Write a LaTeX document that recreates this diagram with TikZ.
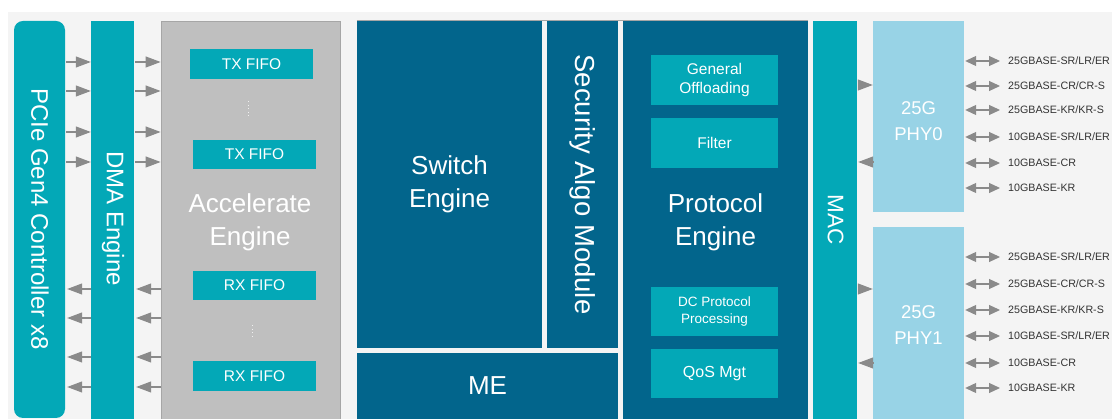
\documentclass[tikz,border=0pt]{standalone}
\usepackage{fontspec}
\setmainfont{Liberation Sans}
\usetikzlibrary{arrows.meta}
\definecolor{teal}{HTML}{03A8B7}
\definecolor{navy}{HTML}{02658C}
\definecolor{sky}{HTML}{98D3E6}
\definecolor{grayblk}{HTML}{BFBFBF}
\definecolor{graybd}{HTML}{A6A6A6}
\definecolor{pagebg}{HTML}{F4F4F4}
\definecolor{arrgray}{HTML}{8A8A8A}
\definecolor{lbl}{HTML}{333333}
\tikzset{
  blk/.style={draw=none, inner sep=0pt, text=white, align=center},
  tealblk/.style={blk, fill=teal},
  navyblk/.style={blk, fill=navy},
  skyblk/.style={blk, fill=sky, text=white},
  vtext/.style={blk, rotate=-90},
  fifo/.style={blk, fill=teal, minimum width=123pt, font=\fontsize{15.5}{18}\selectfont},
  inner/.style={blk, fill=teal, minimum width=127pt, minimum height=50pt},
  arr/.style={draw=arrgray, line width=1.1pt, -{Triangle[length=15pt,width=11pt]}},
  darr/.style={draw=arrgray, line width=1.1pt, {Triangle[length=11pt,width=10pt]}-{Triangle[length=11pt,width=10pt]}},
  std/.style={anchor=west, inner sep=0pt, text=lbl, font=\fontsize{10.7}{12}\selectfont},
  big/.style={font=\fontsize{26}{33}\selectfont},
}
\begin{document}
\begin{tikzpicture}[x=1pt, y=-1pt]
% page and backdrop
\useasboundingbox (0,0) rectangle (1112,419);
\fill[white] (0,0) rectangle (1112,419);
\fill[pagebg] (8,12) rectangle (1112,419);

% host side
\node[tealblk, rounded corners=9pt, minimum width=51pt, minimum height=397pt] (pcie) at (39.5,219.5) {};
\node[vtext, font=\fontsize{24}{28}\selectfont] (pcietxt) at (40,219) {PCIe Gen4 Controller x8};
\node[tealblk, minimum width=43pt, minimum height=398pt] (dma) at (112.5,220) {};
\node[vtext, font=\fontsize{24}{28}\selectfont] (dmatxt) at (113,218.5) {DMA Engine};
\node[blk, fill=grayblk, draw=graybd, line width=0.8pt, minimum width=179pt, minimum height=399pt] (acc) at (250.5,220.5) {};
\node[blk, big] (acctxt) at (250,222) {Accelerate\\Engine};
\node[fifo, minimum height=30pt] (tx1) at (251.5,64) {TX FIFO};
\node[fifo, minimum height=29pt] (tx2) at (254.5,154.5) {TX FIFO};
\node[fifo, minimum height=29pt] (rx1) at (254.5,285.5) {RX FIFO};
\node[fifo, minimum height=30pt] (rx2) at (254.5,376) {RX FIFO};
\draw[white!88!gray, line width=1pt, dash pattern=on 1pt off 2.5pt] (tx1.south -| 248,0) ++(0,22) -- ++(0,16);
\draw[white!88!gray, line width=1pt, dash pattern=on 1pt off 2.5pt] (rx1.south -| 252,0) ++(0,25) -- ++(0,14);

% host side transfers
\foreach \y in {62,91,132,162}{
  \draw[arr] (pcie.east |- 0,\y) ++(1,0) -- (dma.west |- 0,\y);
  \draw[arr] (dma.east |- 0,\y) ++(1,0) -- (acc.west |- 0,\y);
}
\foreach \y in {289,318,357,387}{
  \draw[arr] (dma.west |- 0,\y) -- ([xshift=2pt]pcie.east |- 0,\y);
  \draw[arr] (acc.west |- 0,\y) -- ([xshift=2pt]dma.east |- 0,\y);
}

% packet processing core
\node[navyblk, minimum width=185pt, minimum height=327pt, big] (sw) at (449.5,184.5) {Switch\\Engine};
\node[navyblk, minimum width=71pt, minimum height=327pt] (sec) at (582.5,184.5) {};
\node[vtext, font=\fontsize{27.5}{32}\selectfont] (sectxt) at (583,184.5) {Security Algo Module};
\node[navyblk, minimum width=261pt, minimum height=66pt, big] (me) at (487.5,386) {ME};
\node[navyblk, minimum width=185pt, minimum height=398pt] (prot) at (715.5,220) {};
\node[blk, big] (prottxt) at (715.5,222) {Protocol\\Engine};
\draw[graybd, line width=0.8pt] (sw.north west) -- (prot.north east);
\node[inner, font=\fontsize{15.5}{19}\selectfont] (gen) at (714.5,80) {General\\Offloading};
\node[inner, font=\fontsize{15.5}{19}\selectfont] (flt) at (714.5,143) {Filter};
\node[inner, minimum height=49pt, font=\fontsize{13.5}{17}\selectfont] (dcp) at (714.5,311.5) {DC Protocol\\Processing};
\node[inner, minimum height=49pt, font=\fontsize{16}{19}\selectfont] (qos) at (714.5,373.5) {QoS Mgt};

% line side
\node[tealblk, minimum width=44pt, minimum height=398pt] (mac) at (835,220) {};
\node[vtext, font=\fontsize{22.5}{26}\selectfont] (mactxt) at (835.5,220) {MAC};
\node[skyblk, minimum width=91pt, minimum height=191pt] (phy0) at (918.5,116.5) {};
\node[blk, font=\fontsize{18.5}{26}\selectfont] (phy0txt) at (918.5,121.5) {25G\\PHY0};
\node[skyblk, minimum width=91pt, minimum height=192pt] (phy1) at (918.5,323) {};
\node[blk, font=\fontsize{18.5}{26}\selectfont] (phy1txt) at (918.5,325.5) {25G\\PHY1};

\draw[arr] (mac.east |- 0,85) ++(1,0) -- (phy0.west |- 0,85);
\draw[arr] (phy0.west |- 0,162) -- ([xshift=1pt]mac.east |- 0,162);
\draw[arr] (mac.east |- 0,289) ++(1,0) -- (phy1.west |- 0,289);
\draw[arr] (phy1.west |- 0,363) -- ([xshift=1pt]mac.east |- 0,363);

% media standards
\foreach \i/\y/\t in {a/61/{25GBASE-SR/LR/ER}, b/86/{25GBASE-CR/CR-S}, c/110/{25GBASE-KR/KR-S},
                      d/137/{10GBASE-SR/LR/ER}, e/163/{10GBASE-CR}, f/188/{10GBASE-KR}}{
  \node[std] (p0\i) at (1008,\y) {\t};
  \draw[darr] (phy0.east |- p0\i.west) ++(1,0) -- ([xshift=-8pt]p0\i.west);
}
\foreach \i/\y/\t in {a/257/{25GBASE-SR/LR/ER}, b/284/{25GBASE-CR/CR-S}, c/310/{25GBASE-KR/KR-S},
                      d/336/{10GBASE-SR/LR/ER}, e/363/{10GBASE-CR}, f/388/{10GBASE-KR}}{
  \node[std] (p1\i) at (1008,\y) {\t};
  \draw[darr] (phy1.east |- p1\i.west) ++(1,0) -- ([xshift=-8pt]p1\i.west);
}
\end{tikzpicture}
\end{document}
